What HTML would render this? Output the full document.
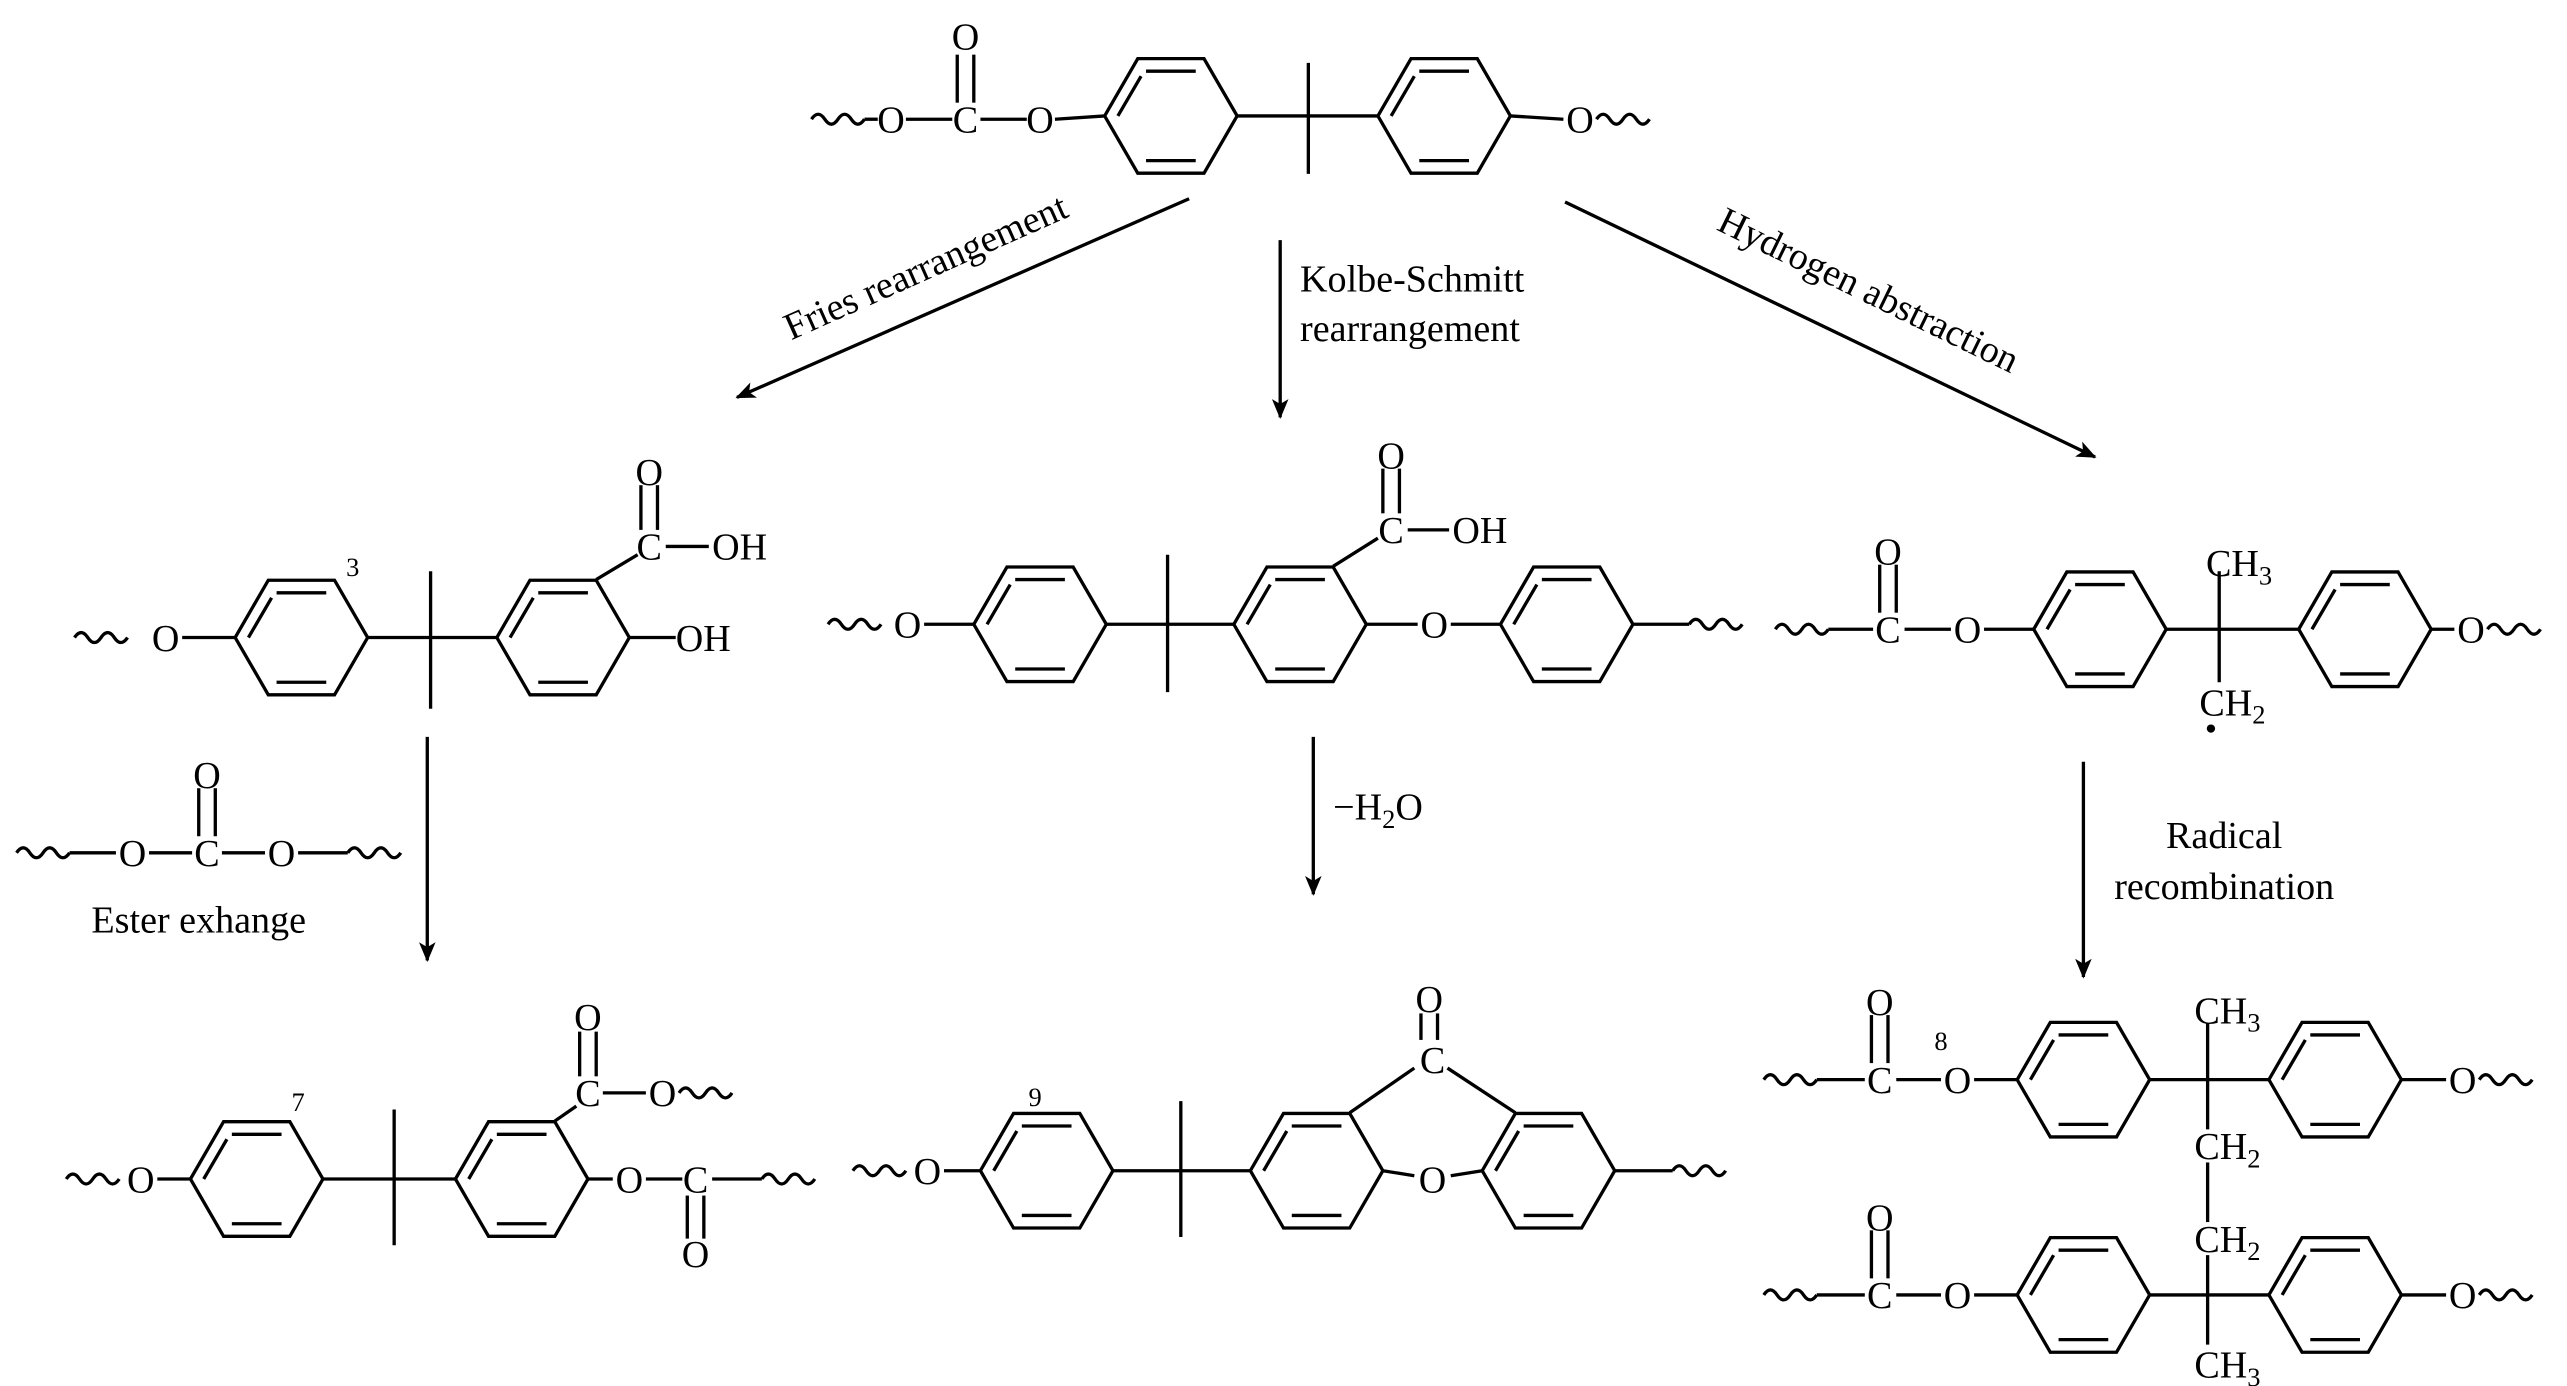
<!DOCTYPE html>
<html><head><meta charset="utf-8"><style>
html,body{margin:0;padding:0;background:#fff;}
svg{display:block;}
text{font-family:"Liberation Serif",serif;font-size:23px;fill:#000;}
</style></head><body>
<svg width="2567" height="1386" viewBox="0 0 1550 837" preserveAspectRatio="none" xmlns="http://www.w3.org/2000/svg">
<defs>
<g id="r" fill="none" stroke="#000" stroke-width="2">
<polygon points="-40,0 -20,-34.6 20,-34.6 40,0 20,34.6 -20,34.6"/>
<line x1="-15" y1="-27" x2="15" y2="-27"/>
<line x1="-15" y1="27" x2="15" y2="27"/>
<line x1="-32" y1="0" x2="-18" y2="-24"/>
</g>
<marker id="a" markerWidth="12" markerHeight="10" refX="11" refY="5" orient="auto" markerUnits="userSpaceOnUse"><path d="M0,0 L12,5 L0,10 L3,5z" fill="#000"/></marker>
</defs>
<g stroke="#000" stroke-width="2" fill="none">
<!-- top -->
<path d="M490,72 q4,-6 8,0 t8,0 t8,0 t8,0"/>
<line x1="522" y1="72" x2="530" y2="72"/><line x1="547" y1="72" x2="575" y2="72"/>
<line x1="578" y1="33" x2="578" y2="62"/><line x1="588" y1="33" x2="588" y2="62"/>
<line x1="592" y1="72" x2="620" y2="72"/><line x1="637" y1="72" x2="667" y2="70"/>
<line x1="747" y1="70" x2="832" y2="70"/><line x1="790" y1="38" x2="790" y2="105"/>
<line x1="912" y1="70" x2="944" y2="72"/>
<path d="M964,72 q4,-6 8,0 t8,0 t8,0 t8,0"/>
<!-- arrows -->
<line x1="718" y1="120" x2="445" y2="240" marker-end="url(#a)"/>
<line x1="773" y1="145" x2="773" y2="252" marker-end="url(#a)"/>
<line x1="945" y1="122" x2="1265" y2="276" marker-end="url(#a)"/>
<line x1="258" y1="445" x2="258" y2="580" marker-end="url(#a)"/>
<line x1="793" y1="445" x2="793" y2="540" marker-end="url(#a)"/>
<line x1="1258" y1="460" x2="1258" y2="590" marker-end="url(#a)"/>
<!-- struct 1 -->
<path d="M45,385 q4,-6 8,0 t8,0 t8,0 t8,0"/>
<line x1="110" y1="385" x2="142" y2="385"/>
<line x1="222" y1="385" x2="300" y2="385"/><line x1="260" y1="345" x2="260" y2="428"/>
<line x1="360" y1="350" x2="385" y2="335"/>
<line x1="387" y1="293" x2="387" y2="320"/><line x1="397" y1="293" x2="397" y2="320"/>
<line x1="402" y1="330" x2="428" y2="330"/>
<line x1="380" y1="385" x2="408" y2="385"/>
<!-- ester exchange -->
<path d="M10,515 q4,-6 8,0 t8,0 t8,0 t8,0"/>
<line x1="42" y1="515" x2="70" y2="515"/><line x1="90" y1="515" x2="116" y2="515"/>
<line x1="120" y1="476" x2="120" y2="505"/><line x1="130" y1="476" x2="130" y2="505"/>
<line x1="134" y1="515" x2="160" y2="515"/><line x1="180" y1="515" x2="210" y2="515"/>
<path d="M210,515 q4,-6 8,0 t8,0 t8,0 t8,0"/>
<!-- struct 2 -->
<path d="M500,377 q4,-6 8,0 t8,0 t8,0 t8,0"/>
<line x1="558" y1="377" x2="588" y2="377"/>
<line x1="668" y1="377" x2="745" y2="377"/><line x1="705" y1="335" x2="705" y2="418"/>
<line x1="805" y1="342" x2="832" y2="325"/>
<line x1="835" y1="283" x2="835" y2="310"/><line x1="845" y1="283" x2="845" y2="310"/>
<line x1="850" y1="320" x2="875" y2="320"/>
<line x1="825" y1="377" x2="856" y2="377"/><line x1="876" y1="377" x2="906" y2="377"/>
<line x1="986" y1="377" x2="1020" y2="377"/>
<path d="M1020,377 q4,-6 8,0 t8,0 t8,0 t8,0"/>
<!-- struct 3 -->
<path d="M1072,380 q4,-6 8,0 t8,0 t8,0 t8,0"/>
<line x1="1104" y1="380" x2="1131" y2="380"/>
<line x1="1135" y1="341" x2="1135" y2="370"/><line x1="1145" y1="341" x2="1145" y2="370"/>
<line x1="1150" y1="380" x2="1178" y2="380"/><line x1="1198" y1="380" x2="1228" y2="380"/>
<line x1="1308" y1="380" x2="1388" y2="380"/><line x1="1340" y1="345" x2="1340" y2="412"/>
<line x1="1468" y1="380" x2="1482" y2="380"/>
<path d="M1502,380 q4,-6 8,0 t8,0 t8,0 t8,0"/>
<!-- bottom left -->
<path d="M40,712 q4,-6 8,0 t8,0 t8,0 t8,0"/>
<line x1="95" y1="712" x2="115" y2="712"/>
<line x1="195" y1="712" x2="275" y2="712"/><line x1="238" y1="670" x2="238" y2="752"/>
<line x1="335" y1="677" x2="348" y2="668"/>
<line x1="350" y1="623" x2="350" y2="650"/><line x1="360" y1="623" x2="360" y2="650"/>
<line x1="364" y1="660" x2="390" y2="660"/>
<path d="M410,660 q4,-6 8,0 t8,0 t8,0 t8,0"/>
<line x1="355" y1="712" x2="370" y2="712"/><line x1="390" y1="712" x2="412" y2="712"/>
<line x1="415" y1="722" x2="415" y2="748"/><line x1="425" y1="722" x2="425" y2="748"/>
<line x1="430" y1="712" x2="460" y2="712"/>
<path d="M460,712 q4,-6 8,0 t8,0 t8,0 t8,0"/>
<!-- bottom middle -->
<path d="M515,707 q4,-6 8,0 t8,0 t8,0 t8,0"/>
<line x1="570" y1="707" x2="592" y2="707"/>
<line x1="672" y1="707" x2="755" y2="707"/><line x1="713" y1="665" x2="713" y2="747"/>
<line x1="815" y1="672" x2="854" y2="645"/><line x1="874" y1="645" x2="915" y2="672"/>
<line x1="858" y1="612" x2="858" y2="628"/><line x1="868" y1="612" x2="868" y2="628"/>
<line x1="835" y1="707" x2="854" y2="710"/><line x1="876" y1="710" x2="895" y2="707"/>
<line x1="975" y1="707" x2="1010" y2="707"/>
<path d="M1010,707 q4,-6 8,0 t8,0 t8,0 t8,0"/>
<!-- bottom right upper -->
<path d="M1065,652 q4,-6 8,0 t8,0 t8,0 t8,0"/>
<line x1="1097" y1="652" x2="1126" y2="652"/>
<line x1="1130" y1="613" x2="1130" y2="642"/><line x1="1140" y1="613" x2="1140" y2="642"/>
<line x1="1145" y1="652" x2="1172" y2="652"/><line x1="1192" y1="652" x2="1218" y2="652"/>
<line x1="1298" y1="652" x2="1370" y2="652"/><line x1="1333" y1="618" x2="1333" y2="682"/>
<line x1="1333" y1="702" x2="1333" y2="738"/><line x1="1333" y1="758" x2="1333" y2="812"/>
<line x1="1450" y1="652" x2="1477" y2="652"/>
<path d="M1497,652 q4,-6 8,0 t8,0 t8,0 t8,0"/>
<!-- bottom right lower -->
<path d="M1065,782 q4,-6 8,0 t8,0 t8,0 t8,0"/>
<line x1="1097" y1="782" x2="1126" y2="782"/>
<line x1="1130" y1="743" x2="1130" y2="772"/><line x1="1140" y1="743" x2="1140" y2="772"/>
<line x1="1145" y1="782" x2="1172" y2="782"/><line x1="1192" y1="782" x2="1218" y2="782"/>
<line x1="1298" y1="782" x2="1370" y2="782"/>
<line x1="1450" y1="782" x2="1477" y2="782"/>
<path d="M1497,782 q4,-6 8,0 t8,0 t8,0 t8,0"/>
</g>
<!-- rings -->
<use href="#r" x="707" y="70"/><use href="#r" x="872" y="70"/>
<use href="#r" x="182" y="385"/><use href="#r" x="340" y="385"/>
<use href="#r" x="628" y="377"/><use href="#r" x="785" y="377"/><use href="#r" x="946" y="377"/>
<use href="#r" x="1268" y="380"/><use href="#r" x="1428" y="380"/>
<use href="#r" x="155" y="712"/><use href="#r" x="315" y="712"/>
<use href="#r" x="632" y="707"/><use href="#r" x="795" y="707"/><use href="#r" x="935" y="707"/>
<use href="#r" x="1258" y="652"/><use href="#r" x="1410" y="652"/>
<use href="#r" x="1258" y="782"/><use href="#r" x="1410" y="782"/>
<!-- text -->
<g text-anchor="middle">
<text x="538" y="80">O</text><text x="583" y="80">C</text><text x="583" y="30">O</text><text x="628" y="80">O</text><text x="954" y="80">O</text>
<text x="0" y="0" transform="translate(562,168) rotate(-24)">Fries rearrangement</text>
<text x="0" y="0" transform="translate(1125,182) rotate(26)">Hydrogen abstraction</text>
<text x="100" y="393">O</text><text x="213" y="348" style="font-size:16px">3</text>
<text x="392" y="338">C</text><text x="392" y="293">O</text>
<text x="125" y="523">C</text><text x="125" y="476">O</text><text x="80" y="523">O</text><text x="170" y="523">O</text>
<text x="120" y="563">Ester exhange</text>
<text x="548" y="385">O</text><text x="840" y="328">C</text><text x="840" y="283">O</text><text x="866" y="385">O</text>
<text x="1140" y="388">C</text><text x="1140" y="341">O</text><text x="1188" y="388">O</text><text x="1492" y="388">O</text>
<text x="1343" y="512">Radical</text><text x="1343" y="543">recombination</text>
<text x="85" y="720">O</text><text x="180" y="671" style="font-size:16px">7</text>
<text x="355" y="668">C</text><text x="355" y="622">O</text><text x="400" y="668">O</text>
<text x="380" y="720">O</text><text x="420" y="720">C</text><text x="420" y="765">O</text>
<text x="560" y="715">O</text><text x="625" y="668" style="font-size:16px">9</text>
<text x="865" y="648">C</text><text x="863" y="611">O</text><text x="865" y="720">O</text>
<text x="1135" y="660">C</text><text x="1135" y="613">O</text><text x="1172" y="634" style="font-size:16px">8</text><text x="1182" y="660">O</text><text x="1487" y="660">O</text>
<text x="1135" y="790">C</text><text x="1135" y="743">O</text><text x="1182" y="790">O</text><text x="1487" y="790">O</text>
</g>
<g>
<text x="785" y="176">Kolbe-Schmitt</text><text x="785" y="206">rearrangement</text>
<text x="430" y="338">OH</text><text x="408" y="393">OH</text>
<text x="877" y="328">OH</text>
<text x="1332" y="348">CH<tspan style="font-size:16px" dy="5">3</tspan></text>
<text x="1328" y="432">CH<tspan style="font-size:16px" dy="5">2</tspan></text>
<text x="805" y="495">−H<tspan style="font-size:16px" dy="5">2</tspan><tspan dy="-5">O</tspan></text>
<text x="1325" y="618">CH<tspan style="font-size:16px" dy="5">3</tspan></text>
<text x="1325" y="700">CH<tspan style="font-size:16px" dy="5">2</tspan></text>
<text x="1325" y="756">CH<tspan style="font-size:16px" dy="5">2</tspan></text>
<text x="1325" y="832">CH<tspan style="font-size:16px" dy="5">3</tspan></text>
</g>
<circle cx="1335" cy="440" r="2.5" fill="#000"/>
</svg>
</body></html>
